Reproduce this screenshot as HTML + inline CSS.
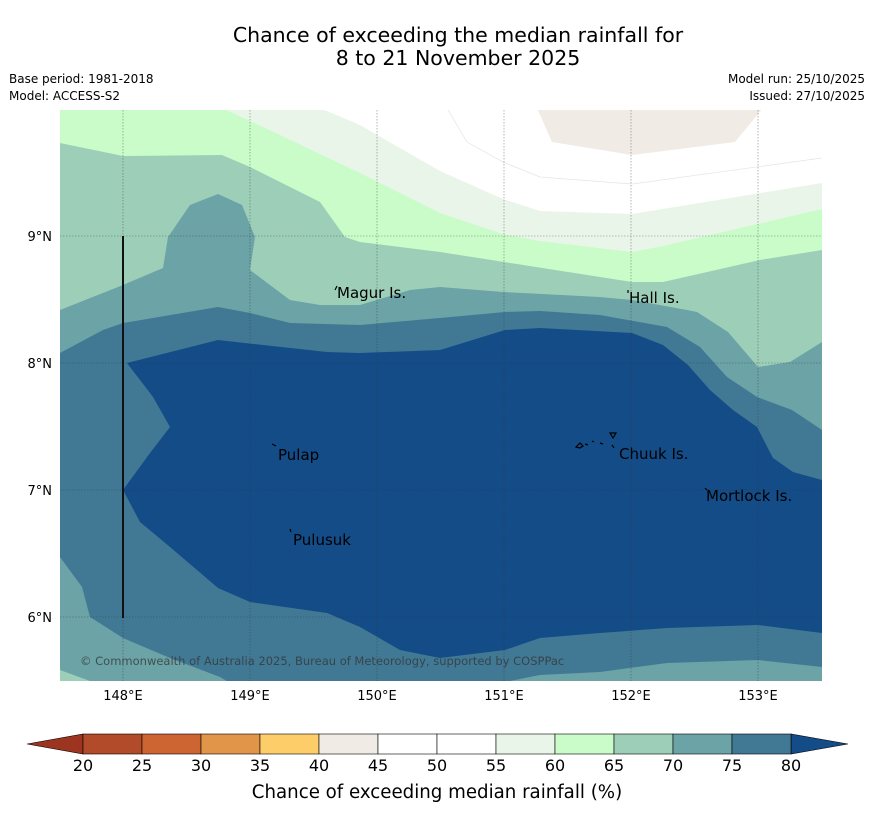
<!DOCTYPE html>
<html><head><meta charset="utf-8">
<style>
body{margin:0;background:#fff;font-family:"Liberation Sans","DejaVu Sans",sans-serif;}
#wrap{position:relative;width:873px;height:816px;overflow:hidden;background:#fff;}
</style></head>
<body>
<div id="wrap">
<svg width="873" height="816" viewBox="0 0 873 816" xmlns="http://www.w3.org/2000/svg" font-family="DejaVu Sans, Liberation Sans, sans-serif">
  <text x="458" y="42" font-size="20.5" text-anchor="middle" fill="#000">Chance of exceeding the median rainfall for</text>
  <text x="458" y="65" font-size="20.5" text-anchor="middle" fill="#000">8 to 21 November 2025</text>
  <text x="9" y="83" font-size="12">Base period: 1981-2018</text>
  <text x="9" y="100" font-size="12">Model: ACCESS-S2</text>
  <text x="865" y="83" font-size="12" text-anchor="end">Model run: 25/10/2025</text>
  <text x="865" y="100" font-size="12" text-anchor="end">Issued: 27/10/2025</text>

  <g>
    <clipPath id="mc"><rect x="60" y="110" width="762" height="571"/></clipPath>
    <g clip-path="url(#mc)">
      <rect x="60" y="110" width="762" height="571" fill="#ffffff"/>
      <polygon fill="#f0ebe5" points="537,108 552,142 632,155 735,142 763,108"/>
      <polyline fill="none" stroke="#e4e4e4" stroke-width="0.7" points="447,108 467,142 503,162 540,177 632,184 822,158"/>
      <polygon fill="#eaf5ea" points="60,108 320,108 360,125 440,171 503,199 540,211 632,214 822,183 822,681 60,681"/>
      <polygon fill="#c9fcc9" points="60,108 222,108 280,135 360,173 440,213 503,234 540,241 632,252 663,246 822,209 822,681 60,681"/>
      <polygon fill="#9dcfb8" points="60,143 123,156 222,155 250,167 320,202 345,237 360,242 440,252 632,282 663,282 760,260 822,250 822,681 60,681"/>
      <polygon fill="#6ba3a6" points="60,310 123,285 163,268 168,237 190,205 218,194 242,205 255,237 250,270 290,300 320,305 360,305 410,290 440,287 503,292 600,297 632,300 687,310 697,312 728,332 758,367 790,362 822,342 822,681 90,681 60,670"/>
      <polygon fill="#417995" points="60,353 103,330 123,323 218,307 250,313 290,323 360,325 440,318 505,312 540,311 600,315 667,327 700,347 727,377 757,397 792,410 822,430 822,667 758,660 667,663 600,672 540,675 500,683 230,683 220,677 170,658 123,638 90,617 82,587 60,557"/>
      <polygon fill="#144c88" points="127,363 218,340 327,352 360,353 440,350 505,330 540,328 632,333 663,345 688,365 710,390 733,410 757,427 773,458 793,472 822,480 822,633 758,625 667,628 600,633 540,638 505,650 440,658 400,650 360,627 327,613 250,602 218,588 170,547 140,522 123,490 150,453 170,427 153,397"/>
      <g stroke="#333" stroke-width="0.6" stroke-dasharray="1.5,1.5" opacity="0.6">
        <line x1="123" y1="110" x2="123" y2="681"/><line x1="250" y1="110" x2="250" y2="681"/>
        <line x1="377" y1="110" x2="377" y2="681"/><line x1="504" y1="110" x2="504" y2="681"/>
        <line x1="631" y1="110" x2="631" y2="681"/><line x1="758" y1="110" x2="758" y2="681"/>
        <line x1="60" y1="236" x2="822" y2="236"/><line x1="60" y1="363" x2="822" y2="363"/>
        <line x1="60" y1="490" x2="822" y2="490"/><line x1="60" y1="617" x2="822" y2="617"/>
      </g>
      <line x1="123" y1="236" x2="123" y2="618" stroke="#111" stroke-width="2"/>
      <g stroke="#000" stroke-width="1.2" fill="none">
        <path d="M335,290 l2,-4"/><path d="M272,444 l4,2"/><path d="M290,529 l1,3"/>
        <path d="M576,447 l4,-4 l3,3 l-3,2z M585,444 l3,1 M592,441 l2,1 M600,443 l3,1 M610,433 l6,0 l-3,5z M612,445 l2,3"/>
        <path d="M705,488 l2,2"/><path d="M628,290 l0,3"/>
      </g>
      <g font-size="15" fill="#000">
        <text x="337" y="298">Magur Is.</text>
        <text x="629" y="303">Hall Is.</text>
        <text x="278" y="460">Pulap</text>
        <text x="293" y="545">Pulusuk</text>
        <text x="619" y="459">Chuuk Is.</text>
        <text x="706" y="501">Mortlock Is.</text>
      </g>
      <text x="80" y="665" font-size="11.5" fill="#333" opacity="0.75">© Commonwealth of Australia 2025, Bureau of Meteorology, supported by COSPPac</text>
    </g>
  </g>
  <g id="axes" font-size="13" fill="#000"></g>
  <g id="cbar"></g>
  <text x="437" y="798" font-size="18.2" text-anchor="middle">Chance of exceeding median rainfall (%)</text>
</svg>
</div>
<script>
const lonTicks = [148, 149, 150, 151, 152, 153];
const latTicks = [9, 8, 7, 6];
const levels = [20, 25, 30, 35, 40, 45, 50, 55, 60, 65, 70, 75, 80];
const bandColors = ["#b24b29","#cd6533","#e19548","#fdcd69","#f0ebe5","#ffffff","#ffffff","#eaf5ea","#c9fcc9","#9dcfb8","#6ba3a6","#417995"];
const extendLow = "#9c3420", extendHigh = "#144c88";
const NS = "http://www.w3.org/2000/svg";
const xLon = lon => 123 + (lon - 148) * 127;
const yLat = lat => 236 + (9 - lat) * 127;
const cx = v => 83 + (v - 20) * (708 / 60);
function mk(tag, attrs, parent){const e=document.createElementNS(NS,tag);for(const k in attrs)e.setAttribute(k,attrs[k]);parent.appendChild(e);return e;}
const ax = document.getElementById('axes');
lonTicks.forEach(l=>{
  const t = mk('text',{x:xLon(l),y:700,'text-anchor':'middle'},ax);
  
  
  t.textContent = l+'°E';
});
latTicks.forEach(l=>{
  const t = mk('text',{x:52,y:yLat(l)+5,'text-anchor':'end'},ax);
  
  
  t.textContent = l+'°N';
});
const cb = document.getElementById('cbar');
const y0 = 734, h = 20;
const lt = mk('polygon',{points:`27,${y0+h/2} ${cx(20)},${y0} ${cx(20)},${y0+h}`,fill:extendLow,stroke:'#000','stroke-width':0.6},cb);


const rt = mk('polygon',{points:`848,${y0+h/2} ${cx(80)},${y0} ${cx(80)},${y0+h}`,fill:extendHigh,stroke:'#000','stroke-width':0.6},cb);


bandColors.forEach((c,i)=>{
  const r = mk('rect',{x:cx(levels[i]),y:y0,width:cx(levels[i+1])-cx(levels[i]),height:h,fill:c,stroke:'#000','stroke-width':0.6},cb);
  
  
});
levels.forEach(v=>{
  const t = mk('text',{x:cx(v),y:771,'text-anchor':'middle','font-size':16},cb);
  
  
  t.textContent = v;
});
</script>
</body></html>
